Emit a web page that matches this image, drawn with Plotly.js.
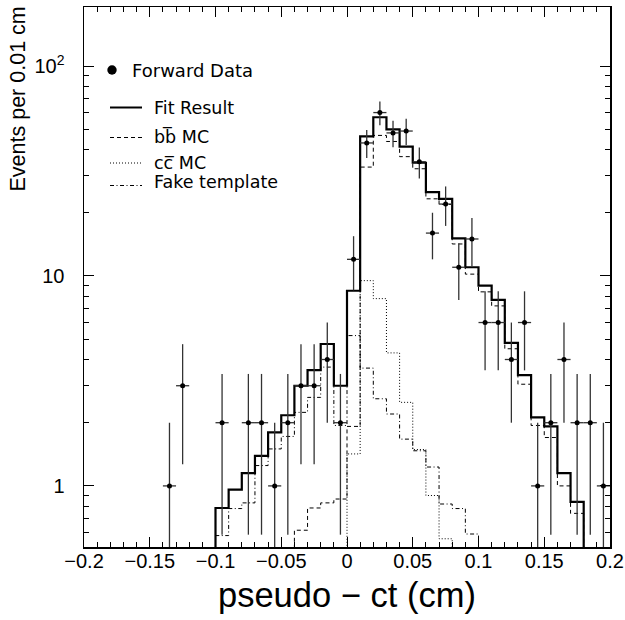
<!DOCTYPE html>
<html>
<head>
<meta charset="utf-8">
<script src="https://cdn.plot.ly/plotly-3.0.1.min.js"></script>
<style>html,body{margin:0;padding:0;background:#fff;}#chart{width:625px;height:620px;}</style>
</head>
<body>
<div id="chart"></div>
<script>
// ---- data ----
const binWidth = 0.01;

// Forward data: bin centres and counts
const dataX = [-0.135,-0.125,-0.095,-0.075,-0.065,-0.055,-0.045,-0.035,-0.025,-0.015,-0.005,
               0.005,0.015,0.025,0.035,0.045,0.055,0.065,0.075,0.085,0.095,
               0.105,0.115,0.125,0.135,0.145,0.155,0.165,0.175,0.185,0.195];
const dataN = [1,3,2,2,2,1,2,3,3,4,2,
               12,43,60,48,49,35,16,22,11,15,
               6,6,4,6,1,2,4,2,2,1];

// Fit result histogram (first bin lower edge, contents)
const fitStart = -0.10;
const fitVals = [0.785,0.96,1.15,1.39,1.80,2.17,3.0,3.56,4.74,3.0,
                 8.5,46.2,57,49.9,41.3,34.6,25.1,23.3,15.1,11.0,
                 9.0,7.7,4.8,3.37,2.12,1.92,1.15,0.84];

// b bbar MC
const bbStart = -0.04;
const bbVals = [0.615,0.785,0.83,0.866,1.92,33,46.7,43.7,37,32.4,23.3,21.9,
                14.2,10.2,8.4,7.2,4.5,3.05,1.94,1.70,1.0,0.74];

// c cbar MC
const ccStart = 0.0;
const ccVals = [1.42,9.5,7.8,4.3,2.5,1.49,0.9,0.56];

// Fake template
const fakeStart = -0.10;
const fakeVals = [0.58,0.78,0.83,1.25,1.5,1.72,2.24,2.64,3.68,1.94,
                  5.2,3.64,2.6,2.2,1.67,1.47,1.23,0.82,0.78,0.59];

const xTickVals = [-0.2,-0.15,-0.1,-0.05,0,0.05,0.1,0.15,0.2];
const xTickText = ['\u22120.2','\u22120.15','\u22120.1','\u22120.05','0','0.05','0.1','0.15','0.2'];
const yTickVals = [1,10,100];
const yTickText = ['1','10','10<sup>2</sup>'];
const yMinorVals = [0.6,0.7,0.8,0.9,2,3,4,5,6,7,8,9,20,30,40,50,60,70,80,90];

const legendLabels = ['Forward Data','Fit Result','bb\u0305 MC','cc\u0305 MC','Fake template'];

// ---- helpers ----
const FLOOR = 0.01; // below the visible y range, used to close the step outline
function stepXY(lo, vals){
  const xs=[lo], ys=[FLOOR];
  vals.forEach((v,i)=>{ xs.push(lo+i*binWidth); ys.push(v); });
  const end = lo+vals.length*binWidth;
  xs.push(end); ys.push(vals[vals.length-1]);
  xs.push(end); ys.push(FLOOR);
  return {x:xs, y:ys};
}
function histTrace(lo, vals, width, dash){
  const s = stepXY(lo, vals);
  return {x:s.x, y:s.y, type:'scatter', mode:'lines', line:{shape:'hv', color:'#000', width:width, dash:dash},
          hoverinfo:'skip', showlegend:false};
}

const traces = [
  histTrace(fakeStart, fakeVals, 1, '4px,2.5px,1px,2.5px'),
  histTrace(ccStart, ccVals, 1, '1px,2px'),
  histTrace(bbStart, bbVals, 1, '4px,3px'),
  histTrace(fitStart, fitVals, 2.2, 'solid'),
  {
    x:dataX, y:dataN, type:'scatter', mode:'markers',
    marker:{color:'#000', size:5, symbol:'circle'},
    error_y:{type:'data', array:dataN.map(Math.sqrt), color:'#333', thickness:1.3, width:0},
    error_x:{type:'constant', value:binWidth/2, color:'#333', thickness:1.3, width:0},
    showlegend:false, hoverinfo:'skip'
  }
];

// ---- layout ----
const L=84, R=610, T=7, B=547;
const px = v => (v-L)/(R-L);
const py = v => (B-v)/(B-T);
const FONT = 'Liberation Sans, Arial, Helvetica, sans-serif';
const LFONT = 'DejaVu Sans, Liberation Sans, sans-serif';

const legendRows = [
  {y:70, dash:null},
  {y:107.5, dash:'solid', w:2},
  {y:137.5, dash:'4px,3px', w:1},
  {y:163, dash:'1px,2px', w:1},
  {y:185.5, dash:'4px,2.5px,1px,2.5px', w:1}
];
const textY = [70, 107.5, 136, 162.5, 182];

const shapes = [
  {type:'circle', xref:'paper', yref:'paper', x0:px(107.3), x1:px(116.7), y0:py(74.7), y1:py(65.3),
   fillcolor:'#000', line:{color:'#000', width:0}}
];
legendRows.slice(1).forEach(r=>{
  shapes.push({type:'line', xref:'paper', yref:'paper', x0:px(110), x1:px(142), y0:py(r.y), y1:py(r.y),
               line:{color:'#000', width:r.w, dash:r.dash}});
});

const annotations = legendLabels.map((t,i)=>({
  text:t, xref:'paper', yref:'paper', x:px(i===0?130:152), y:py(textY[i]), xanchor:'left', yanchor:'middle',
  showarrow:false, font:{family:LFONT, size:i===0?18:17.5, color:'#000'}
}));
annotations.push({
  text:'Events per 0.01 cm', xref:'paper', yref:'paper', x:px(18), y:py(5), xanchor:'center', yanchor:'top',
  textangle:-90, showarrow:false, font:{family:FONT, size:21.5, color:'#000'}
});
annotations.push({
  text:'pseudo \u2212 ct (cm)', xref:'paper', yref:'paper', x:0.5, y:py(595), xanchor:'center', yanchor:'middle',
  showarrow:false, font:{family:FONT, size:34.5, color:'#000'}
});

const layout = {
  width:625, height:620,
  margin:{l:L, r:625-R, t:T, b:620-B, pad:0},
  paper_bgcolor:'#fff', plot_bgcolor:'#fff',
  showlegend:false,
  font:{family:FONT, color:'#000'},
  xaxis:{
    range:[-0.2,0.2], tickmode:'array', tickvals:xTickVals, ticktext:xTickText,
    ticks:'inside', ticklen:10, tickwidth:1, tickcolor:'#000', ticklabelstandoff:-5,
    minor:{dtick:0.01, tick0:0, ticks:'inside', ticklen:5, tickwidth:1, tickcolor:'#000', showgrid:false},
    showline:true, linecolor:'#000', linewidth:1.5, mirror:'ticks',
    showgrid:false, zeroline:false, tickfont:{family:FONT, size:20, color:'#000'}
  },
  yaxis:{
    type:'log', range:[-0.291, 2.281], tickmode:'array', tickvals:yTickVals, ticktext:yTickText,
    ticks:'inside', ticklen:10, tickwidth:1, tickcolor:'#000', ticklabelstandoff:14,
    minor:{tickmode:'array', tickvals:yMinorVals, ticks:'inside', ticklen:5, tickwidth:1, tickcolor:'#000', showgrid:false},
    showline:true, linecolor:'#000', linewidth:1.5, mirror:'ticks',
    showgrid:false, zeroline:false, tickfont:{family:FONT, size:20, color:'#000'}
  },
  shapes:shapes,
  annotations:annotations
};

Plotly.newPlot('chart', traces, layout, {staticPlot:true, displayModeBar:false});
</script>
</body>
</html>
